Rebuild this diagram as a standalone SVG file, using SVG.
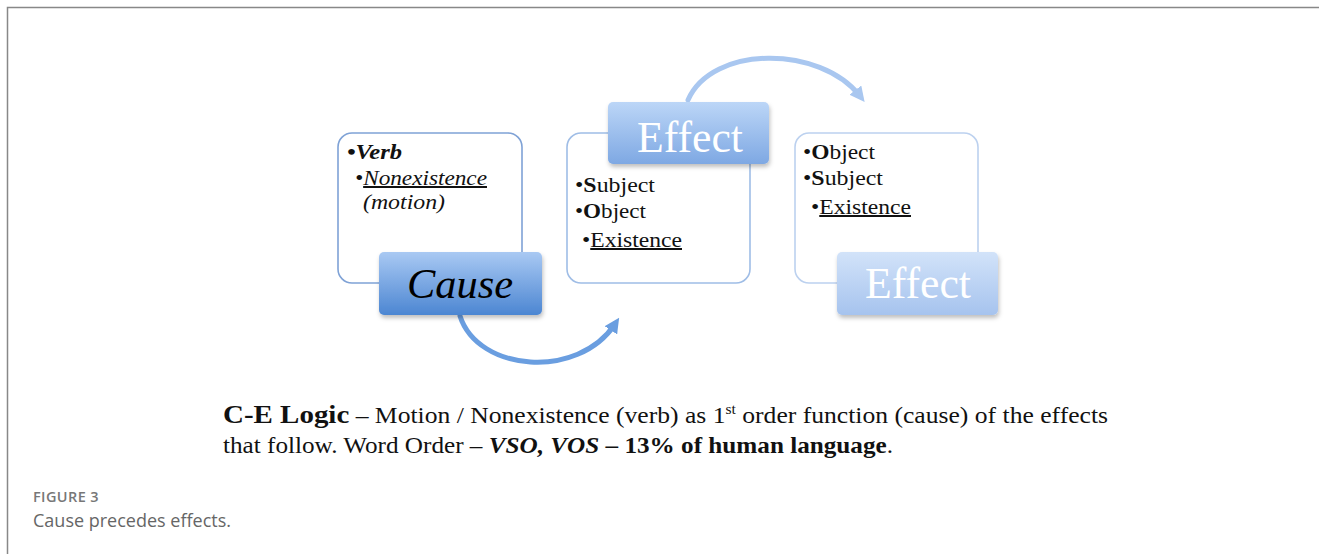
<svg xmlns="http://www.w3.org/2000/svg" width="1319" height="554" viewBox="0 0 1319 554">
<style>
.box{fill:#fff;stroke-width:1.6}
.t{font-family:"Liberation Serif","DejaVu Serif",serif;fill:#111}
.lbl{font-family:"Liberation Serif","DejaVu Serif",serif}
.cap{font-family:"Open Sans","Lato","Liberation Sans",sans-serif}
.arc{fill:none;stroke-linecap:round}
</style>
<defs>
<linearGradient id="gC" x1="0" y1="0" x2="0" y2="1"><stop offset="0" stop-color="#a9c9f3"/><stop offset="1" stop-color="#4c86d2"/></linearGradient>
<linearGradient id="gE1" x1="0" y1="0" x2="0" y2="1"><stop offset="0" stop-color="#bcd6f7"/><stop offset="1" stop-color="#7ea8e3"/></linearGradient>
<linearGradient id="gE2" x1="0" y1="0" x2="0" y2="1"><stop offset="0" stop-color="#d2e3f9"/><stop offset="1" stop-color="#a6c3ee"/></linearGradient>
<filter id="sh" x="-10%" y="-10%" width="130%" height="140%"><feDropShadow dx="1" dy="3" stdDeviation="2" flood-color="#000" flood-opacity="0.25"/></filter>
<marker id="ahB" viewBox="0 0 10 10" refX="5" refY="5" markerWidth="3" markerHeight="3" orient="auto"><path d="M0,0 L10,5 L0,10 z" fill="#6a9ee0"/></marker>
<marker id="ahT" viewBox="0 0 10 10" refX="5" refY="5" markerWidth="3" markerHeight="3" orient="auto"><path d="M0,0 L10,5 L0,10 z" fill="#a9c7f0"/></marker>
</defs>
<rect width="1319" height="554" fill="#fff"/>
<path d="M7.5,554 V7.5 H1319" fill="none" stroke="#888" stroke-width="1.5"/>

<g id="connectors">
<path class="arc" d="M460,316 C478,372 578,380 615,324" stroke="#6a9ee0" stroke-width="5" marker-end="url(#ahB)"/>
<path class="arc" d="M688,100 C712,45 820,45 860,96" stroke="#a9c7f0" stroke-width="5" marker-end="url(#ahT)"/>
</g>

<g id="node-cause">
<rect class="box" x="338" y="133" width="184" height="150" rx="14" stroke="#7fa2d6"/>
<text class="t" x="347" y="159" font-size="20" font-weight="bold" font-style="italic" textLength="55" lengthAdjust="spacingAndGlyphs">•Verb</text>
<text class="t" x="355" y="185" font-size="20" font-style="italic" textLength="132" lengthAdjust="spacingAndGlyphs">•<tspan text-decoration="underline">Nonexistence</tspan></text>
<text class="t" x="363" y="209" font-size="20" font-style="italic" textLength="82" lengthAdjust="spacingAndGlyphs">(motion)</text>
<rect x="379" y="252" width="163" height="63" rx="5" fill="url(#gC)" filter="url(#sh)"/>
<text class="lbl" x="460" y="298" font-size="42" font-style="italic" text-anchor="middle" fill="#000" textLength="106" lengthAdjust="spacingAndGlyphs">Cause</text>
</g>

<g id="node-effect1">
<rect class="box" x="567" y="133" width="183" height="150" rx="14" stroke="#9fbde6"/>
<text class="t" x="575" y="192" font-size="20" textLength="80" lengthAdjust="spacingAndGlyphs">•<tspan font-weight="bold">S</tspan>ubject</text>
<text class="t" x="575" y="218" font-size="20" textLength="71" lengthAdjust="spacingAndGlyphs">•<tspan font-weight="bold">O</tspan>bject</text>
<text class="t" x="582" y="247" font-size="20" textLength="100" lengthAdjust="spacingAndGlyphs">•<tspan text-decoration="underline">Existence</tspan></text>
<rect x="608" y="102" width="161" height="62" rx="5" fill="url(#gE1)" filter="url(#sh)"/>
<text class="lbl" x="690" y="152" font-size="45" text-anchor="middle" fill="#fff" textLength="106" lengthAdjust="spacingAndGlyphs">Effect</text>
</g>

<g id="node-effect2">
<rect class="box" x="795" y="133" width="183" height="150" rx="14" stroke="#bcd1ef"/>
<text class="t" x="803" y="159" font-size="20" textLength="72" lengthAdjust="spacingAndGlyphs">•<tspan font-weight="bold">O</tspan>bject</text>
<text class="t" x="803" y="185" font-size="20" textLength="80" lengthAdjust="spacingAndGlyphs">•<tspan font-weight="bold">S</tspan>ubject</text>
<text class="t" x="811" y="214" font-size="20" textLength="100" lengthAdjust="spacingAndGlyphs">•<tspan text-decoration="underline">Existence</tspan></text>
<rect x="837" y="252" width="161" height="63" rx="5" fill="url(#gE2)" filter="url(#sh)"/>
<text class="lbl" x="918" y="298" font-size="45" text-anchor="middle" fill="#fff" textLength="106" lengthAdjust="spacingAndGlyphs">Effect</text>
</g>

<g id="description">
<text class="t" x="223" y="423" font-size="23" textLength="885" lengthAdjust="spacingAndGlyphs"><tspan font-weight="bold" font-size="26">C-E Logic</tspan> – Motion / Nonexistence (verb) as 1<tspan font-size="14" dy="-9">st</tspan><tspan dy="9"> order function (cause) of the effects</tspan></text>
<text class="t" x="223" y="453" font-size="23" textLength="670" lengthAdjust="spacingAndGlyphs">that follow. Word Order – <tspan font-weight="bold" font-style="italic">VSO, VOS</tspan> <tspan font-weight="bold">– 13% of human language</tspan>.</text>
</g>

<g id="caption">
<text class="cap" x="33" y="502" font-size="14.5" font-weight="600" fill="#777" letter-spacing="0.4">FIGURE 3</text>
<text class="cap" x="33" y="527" font-size="18" fill="#666">Cause precedes effects.</text>
</g>
</svg>
